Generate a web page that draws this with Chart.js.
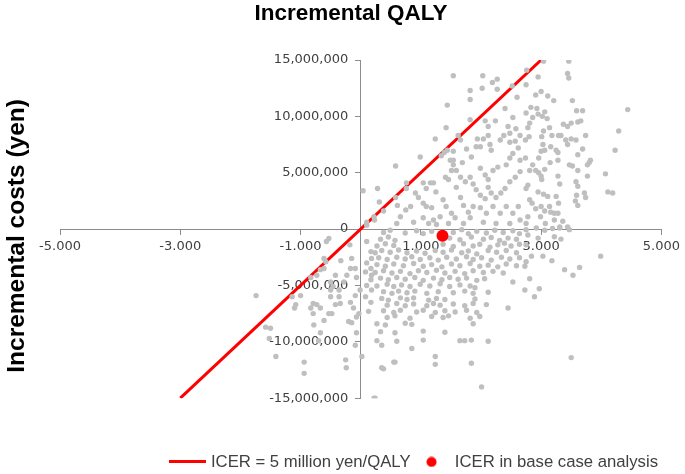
<!DOCTYPE html>
<html>
<head>
<meta charset="utf-8">
<script src="https://cdn.jsdelivr.net/npm/chart.js@4/dist/chart.umd.min.js"></script>
<style>
html,body{margin:0;padding:0;background:#fff;}
#wrap{width:685px;height:474px;}
</style>
</head>
<body>
<div id="wrap"><canvas id="c" width="685" height="474"></canvas></div>
<script>
// ---- data ----
const chartTitle = 'Incremental QALY';
const yAxisTitle = 'Incremental costs (yen)';
const xTickValues = [-5, -3, -1, 1, 3, 5];
const yTickValues = [-15e6, -10e6, -5e6, 0, 5e6, 10e6, 15e6];
const icerLineLabel = 'ICER = 5 million yen/QALY';
const icerLineQaly = [-3, 3];
const icerLineCost = [-15e6, 15e6];
const baseCaseLabel = 'ICER in base case analysis';
const baseCaseQaly = [1.36];
const baseCaseCost = [-0.59e6];
// probabilistic sensitivity analysis simulations: [incremental QALY, incremental cost (yen)]
const psaPoints = [
[1.54,13.6e6],[2.03,13.6e6],[2.19,13.0e6],[2.27,13.3e6],[1.82,12.3e6],[1.82,11.5e6],[2.02,12.5e6],[2.27,12.4e6],[2.52,12.7e6],[2.6,11.7e6],
[1.44,11.0e6],[1.82,9.7e6],[1.42,9.0e6],[1.24,8.0e6],[1.62,8.3e6],[1.66,7.9e6],[2.07,9.6e6],[2.12,9.1e6],[2.24,9.6e6],[2.4,10.7e6],
[2.53,9.9e6],[2.45,9.1e6],[2.48,8.5e6],[2.58,8.9e6],[1.94,8.0e6],[2.04,8.0e6],[2.12,8.3e6],[1.92,7.3e6],[1.99,7.3e6],[2.15,7.5e6],
[2.17,7.0e6],[2.32,7.9e6],[2.38,8.3e6],[2.48,7.7e6],[2.57,7.8e6],[2.65,8.3e6],[2.62,7.2e6],[1.76,7.1e6],[1.84,6.4e6],[1.39,6.8e6],
[1.34,6.5e6],[1.44,7.0e6],[1.54,6.9e6],[1.54,6.1e6],[1.69,5.9e6],[0.99,6.4e6],[0.58,5.6e6],[0.76,4.1e6],[0.76,3.6e6],[0.28,3.6e6],
[0.31,2.4e6],[0.38,1.6e6],[0.58,2.8e6],[0.61,2.1e6],[1.04,4.1e6],[1.09,3.6e6],[1.16,4.1e6],[1.21,4.1e6],[1.25,3.3e6],[0.91,3.2e6],
[0.96,2.8e6],[1.04,2.3e6],[1.09,2.0e6],[1.18,1.9e6],[0.83,2.0e6],[0.75,1.7e6],[0.66,1.1e6],[0.6,0.5e6],[0.88,0.6e6],[1.04,1.0e6],
[1.13,0.5e6],[1.49,6.1e6],[1.54,5.7e6],[1.51,5.2e6],[1.41,4.6e6],[1.46,4.4e6],[1.59,5.2e6],[1.66,4.6e6],[1.74,4.2e6],[1.82,4.6e6],
[1.87,4.0e6],[1.92,3.5e6],[1.99,3.0e6],[2.07,2.7e6],[1.99,5.4e6],[2.07,4.8e6],[2.12,4.4e6],[2.2,5.2e6],[2.28,5.5e6],[2.12,3.7e6],
[2.17,3.2e6],[2.25,2.8e6],[2.33,3.2e6],[2.4,3.6e6],[2.48,4.2e6],[2.57,4.6e6],[2.65,5.1e6],[2.42,5.7e6],[2.48,6.3e6],[2.53,6.7e6],
[2.65,6.1e6],[1.59,3.7e6],[1.66,2.8e6],[1.71,2.1e6],[1.79,1.5e6],[1.87,2.0e6],[1.37,2.6e6],[1.42,2.0e6],[1.51,1.4e6],[1.57,1.0e6],
[1.46,0.5e6],[1.32,1.1e6],[1.99,1.9e6],[2.09,1.4e6],[2.2,2.0e6],[2.32,1.4e6],[2.42,2.0e6],[2.53,1.4e6],[2.62,2.0e6],[2.04,0.6e6],
[2.25,0.5e6],[2.48,0.5e6],[2.65,0.8e6],[1.21,0.8e6],[1.26,0.4e6],[1.71,0.5e6],[1.82,1.0e6],
[3.46,14.9e6],[3.44,13.8e6],[3.46,13.4e6],[3.04,14.9e6],[2.76,14.1e6],[2.95,13.5e6],[2.75,12.8e6],[2.91,11.9e6],[3.0,12.2e6],[3.11,11.8e6],
[3.21,11.4e6],[3.52,11.4e6],[4.44,10.6e6],[3.59,10.5e6],[3.69,10.5e6],[2.75,10.3e6],[2.83,10.8e6],[2.93,10.7e6],[2.95,10.2e6],[3.06,10.4e6],
[3.1,9.8e6],[3.02,10.0e6],[2.81,9.4e6],[2.78,9.0e6],[2.86,9.9e6],[3.37,9.3e6],[3.44,9.1e6],[3.5,9.4e6],[3.61,9.5e6],[3.66,9.6e6],
[4.29,8.7e6],[3.04,8.7e6],[3.14,9.0e6],[3.01,8.2e6],[3.18,8.3e6],[3.29,8.3e6],[3.33,8.3e6],[3.41,7.9e6],[3.5,8.0e6],[3.58,7.9e6],
[3.44,7.5e6],[3.74,8.3e6],[2.74,7.9e6],[2.74,6.3e6],[2.8,8.2e6],[3.03,7.5e6],[3.06,7.0e6],[3.0,6.9e6],[2.96,6.3e6],[3.16,7.3e6],
[3.25,7.0e6],[3.28,6.8e6],[3.69,7.1e6],[3.61,6.6e6],[4.23,7.0e6],[3.82,6.1e6],[3.8,5.9e6],[3.77,5.7e6],[3.28,6.1e6],[3.15,5.9e6],
[3.47,5.7e6],[3.52,5.6e6],[2.86,5.7e6],[2.81,5.2e6],[2.91,5.2e6],[2.96,5.0e6],[3.0,4.7e6],[3.01,4.4e6],[3.06,5.3e6],[3.61,5.2e6],
[3.77,4.7e6],[4.07,4.9e6],[3.28,4.7e6],[3.31,4.0e6],[3.58,4.2e6],[3.61,3.8e6],[3.72,3.2e6],[3.74,2.8e6],[4.11,3.3e6],[4.19,3.2e6],
[2.78,3.9e6],[2.75,3.6e6],[2.81,2.6e6],[2.85,2.3e6],[2.95,3.3e6],[3.04,3.1e6],[3.11,2.9e6],[3.14,2.0e6],[3.25,2.9e6],[3.29,2.3e6],
[3.59,3.0e6],[3.61,2.1e6],[3.57,2.5e6],[2.91,1.8e6],[3.0,2.0e6],[3.06,1.6e6],[3.16,1.5e6],[3.22,1.4e6],[3.28,1.4e6],[2.99,1.1e6],
[2.78,1.1e6],[2.75,0.5e6],[3.07,0.5e6],[3.22,0.8e6],[3.36,0.7e6],[3.31,0.2e6],[3.44,0.2e6],
[0.04,3.4e6],[0.1,0.6e6],[0.22,1.1e6],[0.23,0.8e6],[0.1,0.35e6],
[-0.53,-0.83e6],[-0.57,-1.1e6],[-0.18,-1.4e6],[-0.33,-2.8e6],[-0.61,-2.6e6],[-0.58,-2.9e6],[-0.67,-3.6e6],[-0.73,-4.1e6],[-0.83,-4.3e6],[-0.42,-4.1e6],
[-0.5,-4.7e6],[-0.46,-5.1e6],[-0.36,-5.4e6],[-0.28,-4.7e6],[-0.23,-4.1e6],[-0.15,-2.6e6],[-0.09,-3.5e6],[-0.17,-3.5e6],[-0.07,-4.3e6],[-0.01,-5.4e6],
[-0.09,-5.9e6],[-0.17,-6.5e6],[-0.12,-7.0e6],[-0.03,-7.5e6],[-0.07,-7.8e6],[-0.2,-8.2e6],[-0.15,-8.3e6],[-0.07,-9.2e6],[-0.09,-10.3e6],[0.02,-11.3e6],
[-1.74,-5.9e6],[-1.14,-6.0e6],[-1.0,-5.9e6],[-1.08,-6.7e6],[-0.79,-6.6e6],[-0.73,-6.7e6],[-0.67,-7.0e6],[-0.83,-7.0e6],[-0.79,-7.5e6],[-0.61,-8.1e6],
[-0.53,-7.5e6],[-0.48,-7.5e6],[-0.42,-6.7e6],[-0.36,-6.0e6],[-0.34,-6.6e6],[-0.5,-6.0e6],[-0.78,-8.5e6],[-0.67,-9.2e6],[-0.7,-9.9e6],[-1.58,-8.7e6],
[-1.5,-8.8e6],[-1.52,-9.7e6],[-1.41,-11.3e6],[-0.94,-11.8e6],[-0.94,-12.8e6],[-0.25,-11.6e6],[-0.24,-12.3e6],[-1.1,-7.0e6],[-0.61,-3.5e6],[-0.5,-5.4e6],
[0.22,-15.0e6],[0.35,-12.3e6],[0.55,-11.8e6],
[0.1,-1.1e6],[0.17,-2.0e6],[0.18,-2.6e6],[0.1,-3.0e6],[0.17,-3.5e6],[0.08,-3.8e6],[0.18,-4.1e6],[0.17,-4.5e6],[0.1,-5.0e6],[0.18,-5.4e6],
[0.08,-6.0e6],[0.17,-6.5e6],[0.13,-7.3e6],
[0.38,-0.3e6],[0.49,-0.1e6],[0.74,-0.35e6],[0.93,-0.15e6],[1.04,-0.4e6],[1.18,-0.2e6],[1.54,-0.3e6],[1.68,-0.05e6],[1.79,-0.4e6],[1.93,-0.2e6],
[2.09,-0.35e6],[2.23,-0.1e6],[2.37,-0.3e6],[2.53,-0.15e6],[2.64,-0.4e6],
[0.33,-0.9e6],[0.46,-0.7e6],[0.57,-1.0e6],[1.48,-0.8e6],[1.65,-0.95e6],[1.84,-0.7e6],[2.04,-0.9e6],[2.17,-0.75e6],[2.31,-1.0e6],[2.45,-0.8e6],[2.59,-0.9e6],
[0.27,-1.5e6],[0.41,-1.3e6],[0.55,-1.45e6],[1.37,-1.35e6],[1.54,-1.55e6],[1.71,-1.3e6],[1.87,-1.5e6],[1.98,-1.35e6],[2.15,-1.6e6],[2.28,-1.4e6],
[2.39,-1.25e6],[2.5,-1.5e6],[2.64,-1.35e6],
[0.24,-2.1e6],[0.35,-1.9e6],[0.49,-2.05e6],[0.63,-1.85e6],[0.77,-2.1e6],[0.93,-1.95e6],[1.07,-2.15e6],[1.24,-1.9e6],[1.37,-2.05e6],[1.51,-1.85e6],
[1.68,-2.1e6],[1.79,-1.95e6],[1.93,-2.2e6],[2.12,-1.9e6],[2.26,-2.05e6],[2.42,-1.9e6],[2.59,-2.1e6],
[0.3,-2.55e6],[0.44,-2.7e6],[0.6,-2.5e6],[0.74,-2.65e6],[0.85,-2.45e6],[0.99,-2.7e6],[1.15,-2.55e6],[1.29,-2.75e6],[1.43,-2.5e6],[1.59,-2.65e6],
[1.76,-2.45e6],[1.87,-2.7e6],[2.01,-2.55e6],[2.17,-2.75e6],[2.34,-2.5e6],[2.48,-2.65e6],[2.64,-2.55e6],
[0.27,-3.15e6],[0.41,-3.3e6],[0.55,-3.1e6],[0.71,-3.25e6],[0.88,-3.05e6],[1.04,-3.3e6],[1.18,-3.15e6],[1.35,-3.35e6],[1.51,-3.1e6],[1.65,-3.25e6],
[1.82,-3.05e6],[1.98,-3.3e6],[2.12,-3.2e6],[2.28,-3.35e6],[2.42,-3.1e6],[2.59,-3.25e6],
[0.24,-3.85e6],[0.38,-3.7e6],[0.52,-3.9e6],[0.66,-3.75e6],[0.82,-3.95e6],[0.96,-3.7e6],[1.1,-3.85e6],[1.26,-3.65e6],[1.4,-3.9e6],[1.57,-3.75e6],
[1.73,-3.95e6],[1.87,-3.7e6],[2.04,-3.85e6],[2.2,-3.75e6],[2.37,-3.9e6],
[0.33,-4.35e6],[0.46,-4.5e6],[0.6,-4.3e6],[0.74,-4.45e6],[0.9,-4.3e6],[1.04,-4.55e6],[1.21,-4.35e6],[1.35,-4.5e6],[1.48,-4.3e6],[1.62,-4.45e6],
[1.76,-4.35e6],[1.93,-4.55e6],[2.06,-4.4e6],
[0.27,-5.05e6],[0.44,-4.9e6],[0.55,-5.1e6],[0.68,-4.95e6],[0.82,-5.1e6],[0.99,-4.9e6],[1.15,-5.05e6],[1.32,-4.85e6],[1.48,-5.1e6],[1.65,-4.95e6],
[1.82,-5.05e6],[1.9,-5.2e6],
[0.38,-5.55e6],[0.52,-5.7e6],[0.63,-5.5e6],[0.77,-5.65e6],[0.9,-5.5e6],[1.1,-5.7e6],[1.29,-5.55e6],[1.54,-5.65e6],[1.73,-5.5e6],[1.87,-5.7e6],[2.12,-5.6e6],
[0.35,-6.15e6],[0.46,-6.3e6],[0.66,-6.1e6],[0.77,-6.25e6],[0.88,-6.1e6],[1.13,-6.3e6],[1.26,-6.15e6],[1.4,-6.25e6],[1.9,-6.2e6],
[0.44,-6.75e6],[0.6,-6.6e6],[0.74,-6.8e6],[0.88,-6.65e6],[1.1,-6.8e6],[1.21,-6.6e6],[1.32,-6.75e6],[1.54,-6.65e6],[1.73,-6.8e6],[1.87,-6.6e6],[2.09,-6.7e6],
[0.38,-7.25e6],[0.55,-7.4e6],[0.66,-7.2e6],[0.93,-7.35e6],[1.04,-7.2e6],[1.24,-7.4e6],[1.4,-7.25e6],[1.57,-7.35e6],[1.76,-7.2e6],[1.93,-7.4e6],[2.45,-7.0e6],
[0.44,-7.85e6],[0.57,-7.7e6],[0.82,-7.9e6],[1.18,-7.75e6],[1.37,-7.85e6],[1.46,-7.7e6],[1.82,-7.9e6],[1.98,-7.75e6],
[0.27,-8.4e6],[0.41,-8.5e6],[0.74,-8.35e6],[0.85,-8.45e6],[1.87,-8.4e6],
[0.33,-9.1e6],[0.57,-9.2e6],[1.04,-9.05e6],[1.4,-9.15e6],
[0.27,-9.9e6],[0.6,-9.95e6],[1.04,-9.85e6],[1.65,-9.9e6],[1.73,-9.9e6],[1.84,-9.85e6],[2.12,-9.95e6],
[0.35,-10.3e6],[0.85,-10.6e6],[1.24,-11.3e6],[0.57,-11.8e6],[1.24,-12.0e6],[1.84,-11.9e6],[0.38,-12.4e6],[2.01,-14.0e6],[0.24,-15.0e6],[2.53,-4.7e6],
[2.75,-0.05e6],[2.92,0.1e6],[3.06,-0.1e6],[3.19,0.05e6],[3.31,0.1e6],[3.47,-0.05e6],[2.78,-0.53e6],[2.95,-0.8e6],[3.22,-0.68e6],[3.33,-0.89e6],
[2.75,-1.4e6],[2.84,-2.4e6],[3.03,-2.4e6],[2.75,-2.9e6],[2.73,-3.3e6],[2.81,-4.4e6],[2.73,-5.4e6],[2.97,-5.3e6],[2.89,-6.0e6],[3.18,-2.8e6],
[3.39,-3.6e6],[3.53,-4.1e6],[3.64,-3.4e6],[3.99,-2.4e6],[3.5,-11.4e6]
];

// ---- legend symbols (small images used as legend point styles) ----
function legendLine(){
  const c = document.createElement('canvas'); c.width = 37; c.height = 3;
  const g = c.getContext('2d'); g.fillStyle = '#ff0000'; g.fillRect(0,0,37,3); return c;
}
function legendDot(){
  const c = document.createElement('canvas'); c.width = 11; c.height = 11;
  const g = c.getContext('2d'); g.fillStyle = '#ff0000'; g.beginPath(); g.arc(5.5,5.5,5,0,Math.PI*2); g.fill(); return c;
}
const legendSymbols = {0: legendDot(), 2: legendLine()};
const legendOrder = [2, 0];

Chart.defaults.font.family = "'DejaVu Sans', sans-serif";
Chart.defaults.animation = false;

const tickColor = '#404040';
const axisColor = '#8c8c8c';
const labelGap = '\u00a0\u00a0\u00a0';

new Chart(document.getElementById('c'), {
  type: 'scatter',
  data: {
    datasets: [
      {
        label: baseCaseLabel,
        data: baseCaseQaly.map((q, i) => ({x: q, y: baseCaseCost[i]})),
        backgroundColor: '#ff0000', borderColor: '#ff0000', borderWidth: 0,
        pointRadius: 6, xAxisID: 'x', yAxisID: 'y'
      },
      {
        label: 'PSA',
        data: psaPoints.map(p => ({x: p[0], y: p[1]})),
        backgroundColor: '#bfbfbf', borderColor: '#bfbfbf', borderWidth: 0,
        pointRadius: 2.7, xAxisID: 'x', yAxisID: 'y'
      },
      {
        label: icerLineLabel,
        data: icerLineQaly.map((q, i) => ({x: q, y: icerLineCost[i]})),
        showLine: true, borderColor: '#ff0000', backgroundColor: '#ff0000',
        borderWidth: 3, pointRadius: 0, xAxisID: 'x', yAxisID: 'y'
      }
    ]
  },
  options: {
    responsive: false,
    animation: false,
    layout: { padding: { left: 38, right: 21, top: 0, bottom: -6.3 } },
    scales: {
      x: {
        type: 'linear', min: -5, max: 5, position: { y: 0 },
        afterBuildTicks: s => { s.ticks = xTickValues.map(v => ({ value: v })); },
        ticks: {
          callback: v => Number(v).toFixed(3),
          font: { family: "'DejaVu Sans'", size: 13 }, color: tickColor,
          padding: 5, maxRotation: 0, autoSkip: false
        },
        grid: { display: true, drawOnChartArea: false, drawTicks: true, tickLength: 5, color: axisColor },
        border: { display: true, color: axisColor, width: 1 }
      },
      y: {
        type: 'linear', min: -15e6, max: 15e6, position: { x: 0 },
        afterBuildTicks: s => { s.ticks = yTickValues.map(v => ({ value: v })); },
        ticks: {
          callback: v => Number(v).toLocaleString('en-US') + labelGap,
          font: { family: "'DejaVu Sans'", size: 13 }, color: tickColor,
          padding: 12, autoSkip: false
        },
        grid: { display: true, drawOnChartArea: false, drawTicks: true, tickLength: 5, color: axisColor },
        border: { display: true, color: axisColor, width: 1 }
      },
      yTitle: {
        type: 'linear', axis: 'y', position: 'left', display: true,
        ticks: { display: false },
        grid: { display: false, drawTicks: false },
        border: { display: false },
        title: {
          display: true, text: yAxisTitle + '\u00a0\u00a0', color: '#000',
          font: { family: "'Liberation Sans', Arial, sans-serif", size: 24.5, weight: 'bold' },
          padding: { top: -35.7, bottom: 28.3 }
        }
      }
    },
    plugins: {
      title: {
        display: true, text: chartTitle, color: '#000',
        font: { family: "'Liberation Sans', Arial, sans-serif", size: 22.5, weight: 'bold' },
        padding: { top: 0, bottom: 33 }
      },
      legend: {
        display: true, position: 'bottom', align: 'end',
        title: { display: true, text: ' ', padding: { top: 0, bottom: 0 }, font: { size: 41.2 } },
        labels: {
          usePointStyle: true, pointStyleWidth: 30, boxHeight: 10, padding: 6,
          color: tickColor,
          font: { family: "'Liberation Sans', Arial, sans-serif", size: 16.7 },
          generateLabels: chart => legendOrder.map(i => ({
            text: chart.data.datasets[i].label,
            pointStyle: legendSymbols[i],
            fillStyle: '#ff0000', strokeStyle: '#ff0000', lineWidth: 0,
            hidden: false, datasetIndex: i, fontColor: tickColor
          }))
        }
      },
      tooltip: { enabled: false }
    }
  }
});
</script>
</body>
</html>
